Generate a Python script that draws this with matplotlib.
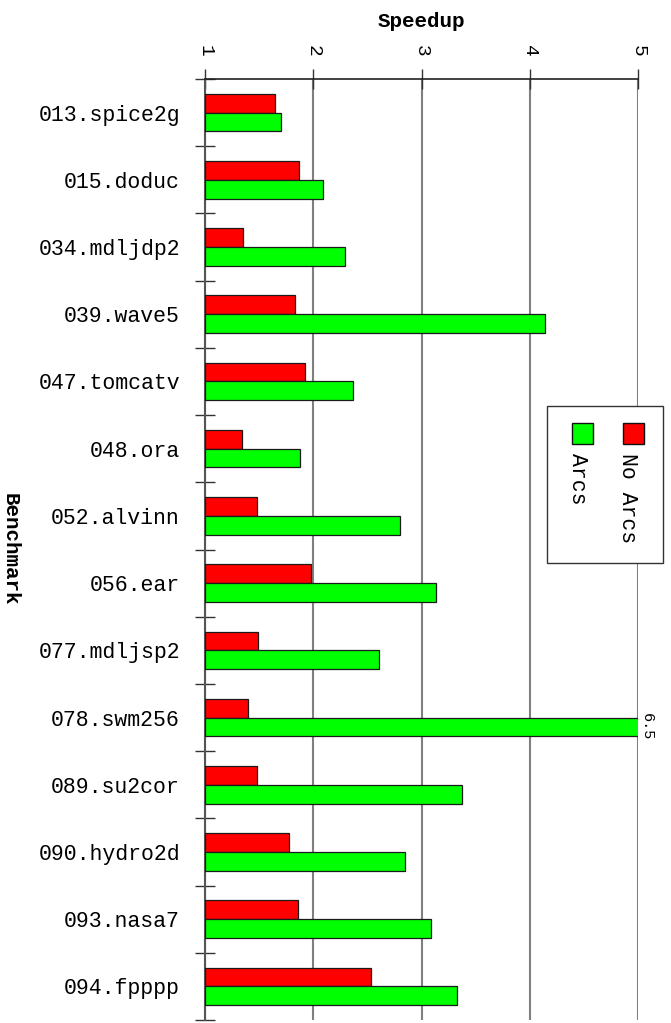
import matplotlib
matplotlib.use("Agg")
import matplotlib.pyplot as plt
from matplotlib.patches import Rectangle
from matplotlib.ticker import FixedLocator
import numpy as np

benchmarks = ["013.spice2g", "015.doduc", "034.mdljdp2", "039.wave5", "047.tomcatv",
              "048.ora", "052.alvinn", "056.ear", "077.mdljsp2", "078.swm256",
              "089.su2cor", "090.hydro2d", "093.nasa7", "094.fpppp"]
no_arcs = [1.65, 1.87, 1.35, 1.83, 1.92, 1.34, 1.48, 1.98, 1.49, 1.40, 1.48, 1.78, 1.86, 2.53]
arcs = [1.70, 2.09, 2.29, 4.14, 2.37, 1.88, 2.80, 3.13, 2.61, 6.5, 3.37, 2.85, 3.09, 3.33]
speedup_ticks = [1, 2, 3, 4, 5]

FONT = "Liberation Mono"
RED = "#ff0000"
GREEN = "#00ff00"

fig = plt.figure(figsize=(6.71, 10.23), dpi=100)
ax = fig.add_axes([205 / 671, 3 / 1023, (638 - 205) / 671, (1020 - 79) / 1023])

n = len(benchmarks)
ypos = np.arange(n)
h = 0.28
x0 = 1.0
ax.barh(ypos - h / 2, np.array(no_arcs) - x0, left=x0, height=h, color=RED,
        edgecolor="#1a1a1a", linewidth=0.9, zorder=3)
ax.barh(ypos + h / 2, np.array(arcs) - x0, left=x0, height=h, color=GREEN,
        edgecolor="#1a1a1a", linewidth=0.9, zorder=3)

xmin, xmax = speedup_ticks[0], speedup_ticks[-1]
ax.set_xlim(xmin, xmax)
ax.set_ylim(n - 0.5, -0.5)

# values beyond the axis range get their number printed at the edge
for i, v in enumerate(arcs):
    if v > xmax:
        ax.text(xmax + 0.015, i + h / 2, f"{v:g}", rotation=-90, ha="left", va="center",
                family=FONT, fontsize=11, clip_on=False)

# top axis
ax.xaxis.set_ticks_position("top")
ax.xaxis.set_label_position("top")
ax.set_xticks(speedup_ticks)
ax.set_xticklabels([str(t) for t in speedup_ticks], rotation=-90, family=FONT, fontsize=14)
ax.tick_params(axis="x", direction="inout", length=14, width=1.0, pad=9, color="#333333")
ax.set_xlabel("Speedup", family=FONT, fontweight="bold", fontsize=15, labelpad=13)
ax.grid(axis="x", color="#7f7f7f", linewidth=1.5, zorder=0)

# category labels, with boundary ticks between categories
ax.set_yticks(ypos)
ax.set_yticklabels(benchmarks, family=FONT, fontsize=15.5)
ax.tick_params(axis="y", which="major", length=0, pad=18)
ax.yaxis.set_minor_locator(FixedLocator(np.arange(n + 1) - 0.5))
ax.tick_params(axis="y", which="minor", direction="inout", length=14, width=1.0, color="#333333")
ax.set_ylabel("Benchmark", family=FONT, fontweight="bold", fontsize=15, rotation=-90,
              labelpad=0, va="center")
ax.yaxis.set_label_coords(-0.45, 0.5)

for s in ["right", "bottom"]:
    ax.spines[s].set_visible(False)
ax.spines["left"].set_color("#555555")
ax.spines["left"].set_linewidth(1.5)
ax.spines["top"].set_color("#222222")
ax.spines["top"].set_linewidth(1.2)

# rotated legend box
def fx(px):
    return px / 671

def fy(py):
    return 1 - py / 1023

fig.patches.append(Rectangle((fx(547), fy(563)), fx(663) - fx(547), fy(406) - fy(563),
                             transform=fig.transFigure, facecolor="white",
                             edgecolor="#333333", linewidth=1.0, zorder=5))
entries = [("No Arcs", RED, 633.5, 627), ("Arcs", GREEN, 582.5, 577)]
for label, col, cx, tx in entries:
    fig.patches.append(Rectangle((fx(cx - 10.5), fy(444)), fx(21), fy(423) - fy(444),
                                 transform=fig.transFigure, facecolor=col,
                                 edgecolor="#111111", linewidth=1.0, zorder=6))
    fig.text(fx(tx), fy(453), label, rotation=-90, ha="center", va="top",
             family=FONT, fontsize=15.5, zorder=7)

fig.savefig("out.png", dpi=100)
